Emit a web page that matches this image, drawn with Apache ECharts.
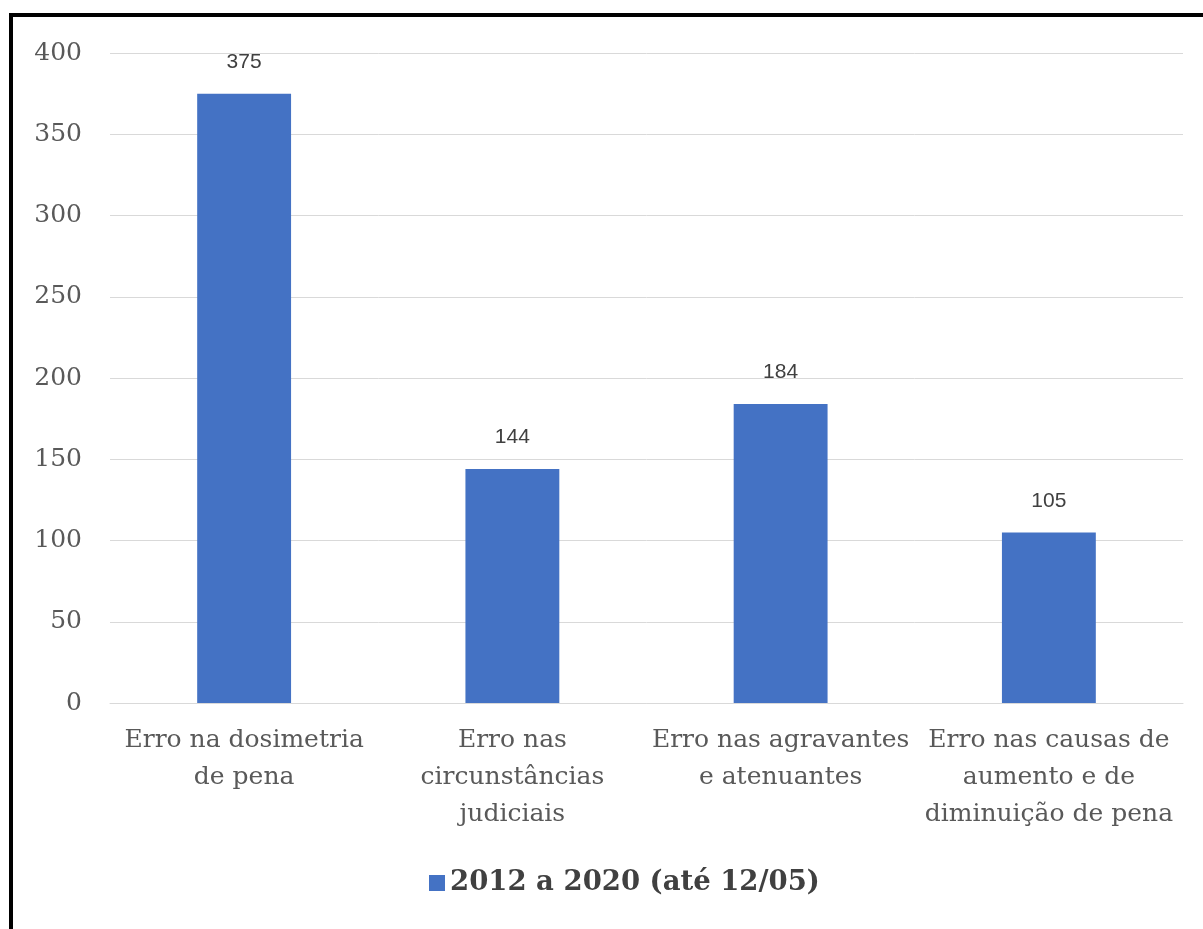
<!DOCTYPE html>
<html>
<head>
<meta charset="utf-8">
<script src="https://cdn.jsdelivr.net/npm/echarts@6/dist/echarts.min.js"></script>
<style>
  html, body { margin: 0; padding: 0; background: #fff; }
  #frame {
    position: absolute; left: 9px; top: 13px; width: 1194px; height: 916px;
    border-top: 4px solid #000; border-left: 4px solid #000; box-sizing: border-box;
  }
  #main { position: absolute; left: 0; top: 0; width: 1203px; height: 929px; }
</style>
</head>
<body>
<div id="frame"></div>
<div id="main"></div>
<script>
const categories = [
  'Erro na dosimetria\nde pena',
  'Erro nas\ncircunstâncias\njudiciais',
  'Erro nas agravantes\ne atenuantes',
  'Erro nas causas de\naumento e de\ndiminuição de pena'
];
const values = [375, 144, 184, 105];
const seriesName = '2012 a 2020 (até 12/05)';

const myChart = echarts.init(document.getElementById('main'));
const option = {
  animation: false,
  grid: { left: 110, right: 20, top: 53, bottom: 226 },
  legend: {
    data: [{ name: seriesName, icon: 'rect' }],
    bottom: 27,
    left: 424,
    itemWidth: 16,
    itemHeight: 16,
    itemGap: 4,
    textStyle: { fontFamily: 'DejaVu Serif', fontWeight: 'bold', fontSize: 27.5, color: '#404040' }
  },
  xAxis: {
    type: 'category',
    data: categories,
    axisTick: { show: false },
    axisLine: { lineStyle: { color: '#d9d9d9' } },
    axisLabel: {
      interval: 0,
      margin: 19,
      fontFamily: 'DejaVu Serif',
      fontSize: 25,
      lineHeight: 37,
      color: '#595959'
    }
  },
  yAxis: {
    type: 'value',
    min: 0,
    max: 400,
    interval: 50,
    axisLine: { show: false },
    axisTick: { show: false },
    splitLine: { lineStyle: { color: '#d9d9d9' } },
    axisLabel: { margin: 28, fontFamily: 'DejaVu Serif', fontSize: 25, color: '#595959' }
  },
  series: [
    {
      name: seriesName,
      type: 'bar',
      data: values,
      barWidth: '35%',
      itemStyle: { color: '#4472c4' },
      label: {
        show: true,
        position: 'top',
        distance: 21,
        fontFamily: 'Liberation Sans',
        fontSize: 21,
        color: '#404040'
      }
    }
  ]
};
myChart.setOption(option);
</script>
</body>
</html>
